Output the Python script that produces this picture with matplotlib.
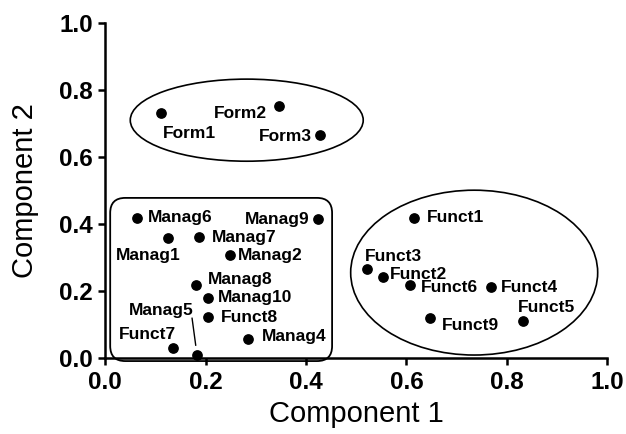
import matplotlib
matplotlib.use("Agg")
import matplotlib.pyplot as plt
from matplotlib.patches import Ellipse, FancyBboxPatch

plt.rcParams['font.family'] = ['Liberation Sans', 'DejaVu Sans']

names = ["Form1", "Form2", "Form3",
         "Manag1", "Manag2", "Manag4", "Manag5", "Manag6", "Manag7",
         "Manag8", "Manag9", "Manag10", "Funct7", "Funct8",
         "Funct1", "Funct2", "Funct3", "Funct4", "Funct5", "Funct6", "Funct9"]
comp1 = [0.111, 0.346, 0.428,
         0.125, 0.248, 0.285, 0.183, 0.064, 0.187,
         0.181, 0.424, 0.205, 0.135, 0.205,
         0.615, 0.553, 0.522, 0.769, 0.832, 0.607, 0.647]
comp2 = [0.731, 0.752, 0.666,
         0.358, 0.307, 0.057, 0.009, 0.418, 0.361,
         0.218, 0.415, 0.180, 0.030, 0.122,
         0.418, 0.242, 0.266, 0.212, 0.110, 0.218, 0.119]

# label placement: (dx px, dy px, ha)
lab = {
    "Form1": (2, -20, "left"), "Form2": (-12, -7, "right"), "Form3": (-8, -2, "right"),
    "Manag6": (11, 0, "left"), "Manag1": (-20, -17, "center"), "Manag7": (13, 0, "left"),
    "Manag9": (-9, 0, "right"), "Manag2": (8, 0, "left"), "Manag8": (12, 6, "left"),
    "Manag10": (10, 0, "left"), "Funct8": (13, 0, "left"), "Manag4": (14, 2, "left"),
    "Funct7": (3, 13, "right"), "Manag5": (-3, 45, "right"),
    "Funct1": (13, 0, "left"), "Funct3": (-2, 12, "left"), "Funct2": (7, 2, "left"),
    "Funct6": (11, -2, "left"), "Funct9": (12, -7, "left"), "Funct4": (10, 0, "left"),
    "Funct5": (-5, 14, "left"),
}

fig = plt.figure(figsize=(6.26, 4.34), dpi=100)
ax = fig.add_axes([0.168, 0.175, 0.802, 0.772])

ax.scatter(comp1, comp2, s=45, color="black", zorder=3, clip_on=False)
for n, x, y in zip(names, comp1, comp2):
    dx, dy, ha = lab[n]
    ax.annotate(n, (x, y), xytext=(dx, dy), textcoords="offset pixels",
                ha=ha, va="center", fontsize=12.5, fontweight="bold")

# leader line for Manag5
i5 = names.index("Manag5")
ax.annotate("", (comp1[i5], comp2[i5]), xytext=(-5, 37), textcoords="offset pixels",
            arrowprops=dict(arrowstyle="-", lw=1.0, color="black", shrinkA=0, shrinkB=7))

ax.add_patch(Ellipse((0.282, 0.71), 0.464, 0.245, fill=False, lw=1.2, ec="black"))
ax.add_patch(Ellipse((0.735, 0.255), 0.492, 0.492, fill=False, lw=1.2, ec="black"))
ax.add_patch(FancyBboxPatch((0.01, -0.009), 0.442, 0.487,
                            boxstyle="round,pad=0,rounding_size=0.03",
                            mutation_aspect=1.5, fill=False, lw=1.3, ec="black",
                            clip_on=False))

ax.set_xlim(0, 1.0)
ax.set_ylim(0, 1.0)
ax.set_xticks([0.0, 0.2, 0.4, 0.6, 0.8, 1.0])
ax.set_yticks([0.0, 0.2, 0.4, 0.6, 0.8, 1.0])
ax.set_xticklabels(["0.0", "0.2", "0.4", "0.6", "0.8", "1.0"], fontweight="bold", fontsize=17.5)
ax.set_yticklabels(["0.0", "0.2", "0.4", "0.6", "0.8", "1.0"], fontweight="bold", fontsize=17.5)
ax.tick_params(direction="out", length=5, width=1.8, pad=4)
for s in ["top", "right"]:
    ax.spines[s].set_visible(False)
for s in ["left", "bottom"]:
    ax.spines[s].set_linewidth(1.8)

ax.set_xlabel("Component 1", fontsize=21, labelpad=5)
ax.set_ylabel("Component 2", fontsize=21, labelpad=14)

fig.savefig("out.png", dpi=100)
